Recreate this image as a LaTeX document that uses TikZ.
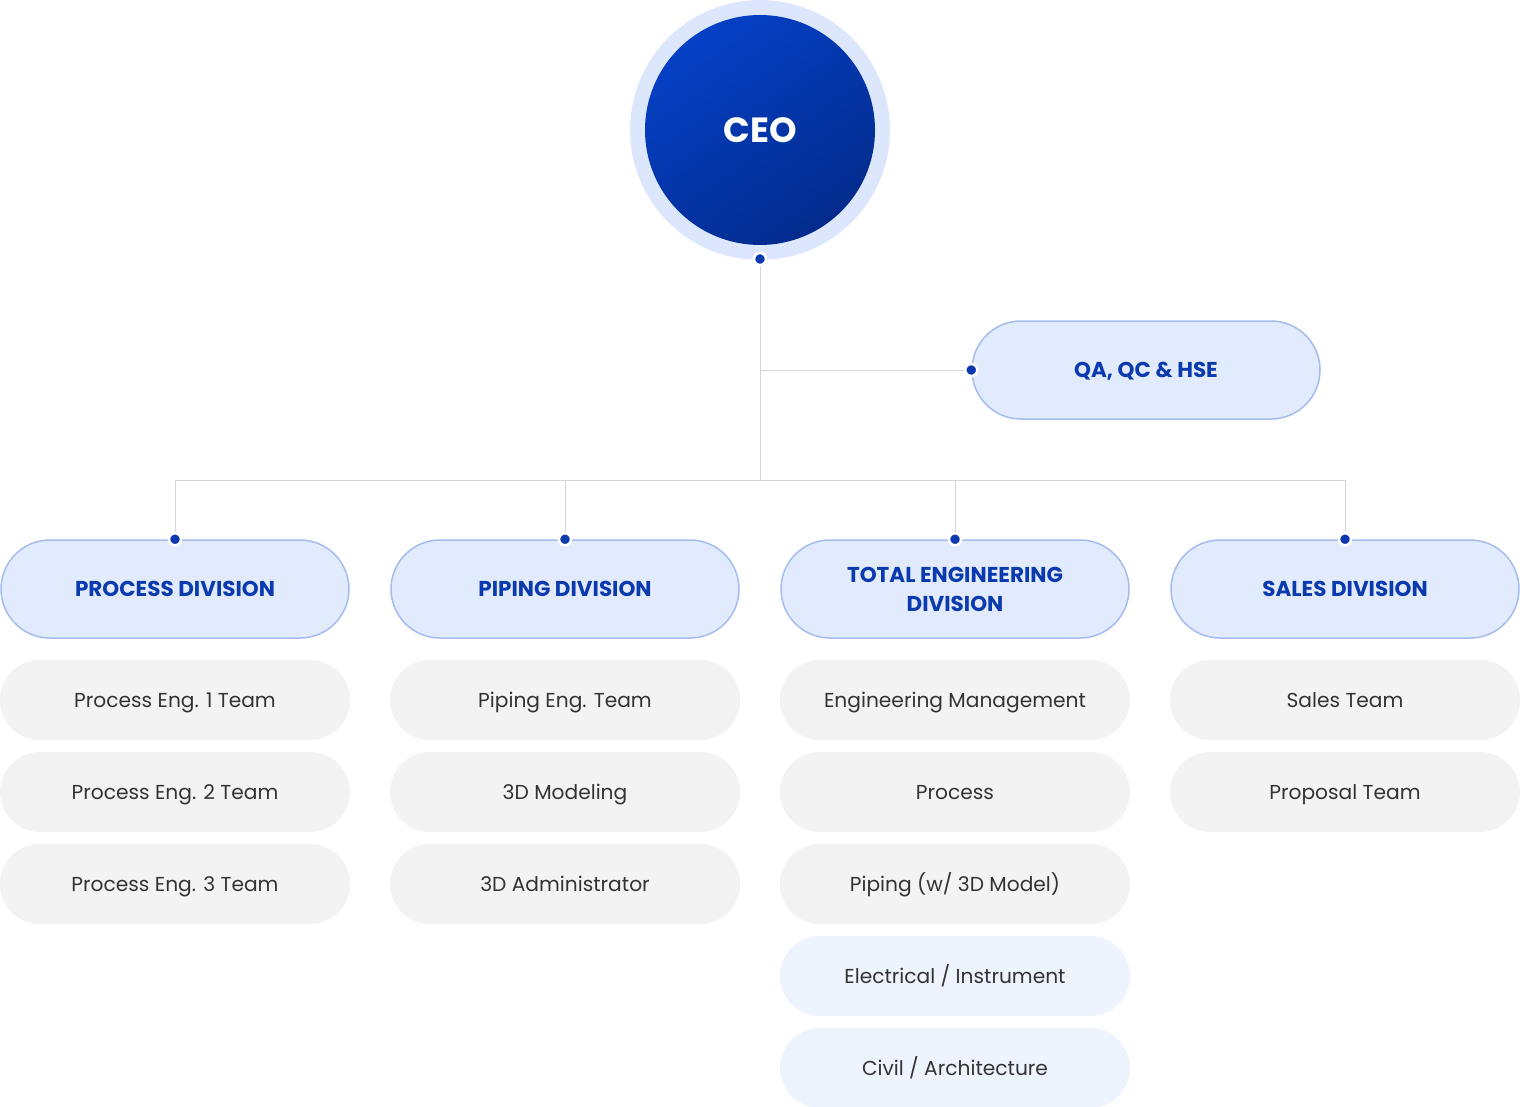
\documentclass[tikz,border=0pt]{standalone}
\usepackage{fontspec}
\setmainfont{Poppins}
\definecolor{ceoA}{HTML}{0540C6}
\definecolor{ceoB}{HTML}{032B8C}
\definecolor{ring}{HTML}{DCE6FD}
\definecolor{divfill}{HTML}{E2EBFD}
\definecolor{divline}{HTML}{A4BCEE}
\definecolor{divtext}{HTML}{0A3AAE}
\definecolor{itemfill}{HTML}{F3F3F3}
\definecolor{itemblue}{HTML}{EEF4FE}
\definecolor{itemtext}{HTML}{333333}
\definecolor{conn}{HTML}{D6D6D6}
\definecolor{dotc}{HTML}{0A3AAE}
\tikzset{
  divbox/.style={draw=divline, line width=1.5pt, fill=divfill, rounded corners=49pt,
    minimum width=348pt, minimum height=98pt, inner sep=0pt, align=center,
    font=\fontsize{21.5}{29}\selectfont\bfseries, text=divtext},
  itembox/.style={fill=itemfill, rounded corners=40pt, minimum width=350pt,
    minimum height=80pt, inner sep=0pt, text height=14pt, text depth=0pt,
    font=\fontsize{20.2}{24}\selectfont, text=itemtext},
  itemboxb/.style={itembox, fill=itemblue},
  connector/.style={draw=conn, line width=1pt},
  jdot/.style={circle, fill=dotc, draw=white, line width=2.5pt, minimum size=12pt, inner sep=0pt},
}
\begin{document}
\begin{tikzpicture}[x=1pt,y=-1pt]
\useasboundingbox (0,0) rectangle (1520,1107);
% CEO
\node[circle, fill=ring, minimum size=260pt, inner sep=0pt] (ceoring) at (760,130) {};
\node[circle, top color=ceoA, bottom color=ceoB, shading angle=35, minimum size=230pt, inner sep=0pt,
  text=white, font=\fontsize{35}{40}\selectfont\bfseries] (ceo) at (760,130) {CEO};
% QA
\node[divbox, text height=15pt, text depth=0pt] (qa) at (1146,370) {QA, QC \& HSE};
% Divisions
\node[divbox, text height=15pt, text depth=0pt] (d1) at (175,589) {PROCESS DIVISION};
\node[divbox, text height=15pt, text depth=0pt] (d2) at (565,589) {PIPING DIVISION};
\node[divbox] (d3) at (955,589) {TOTAL ENGINEERING\\DIVISION};
\node[divbox, text height=15pt, text depth=0pt] (d4) at (1345,589) {SALES DIVISION};
% junctions
\coordinate (ceobot) at (760,259);
\coordinate (jqa) at (760,370);
\coordinate (jmain) at (760,480);
\coordinate (j1) at (175,480);
\coordinate (j2) at (565,480);
\coordinate (j3) at (955,480);
\coordinate (j4) at (1345,480);
% connectors
\draw[connector] (ceobot) -- (jmain);
\draw[connector] (jqa) -- (qa.west);
\draw[connector] (j1) -- (j4);
\draw[connector] (j1) -- (d1.north);
\draw[connector] (j2) -- (d2.north);
\draw[connector] (j3) -- (d3.north);
\draw[connector] (j4) -- (d4.north);
% dots
\node[jdot] (dceo) at (ceobot) {};
\node[jdot] (dqa) at (qa.west) {};
\node[jdot] (dd1) at (d1.north) {};
\node[jdot] (dd2) at (d2.north) {};
\node[jdot] (dd3) at (d3.north) {};
\node[jdot] (dd4) at (d4.north) {};
% items
\node[itembox] (p1) at (175,700) {Process Eng. 1 Team};
\node[itembox] (p2) at (175,792) {Process Eng. 2 Team};
\node[itembox] (p3) at (175,884) {Process Eng. 3 Team};
\node[itembox] (pi1) at (565,700) {Piping Eng. Team};
\node[itembox] (pi2) at (565,792) {3D Modeling};
\node[itembox] (pi3) at (565,884) {3D Administrator};
\node[itembox] (t1) at (955,700) {Engineering Management};
\node[itembox] (t2) at (955,792) {Process};
\node[itembox] (t3) at (955,884) {Piping (w/ 3D Model)};
\node[itemboxb] (t4) at (955,976) {Electrical / Instrument};
\node[itemboxb] (t5) at (955,1068) {Civil / Architecture};
\node[itembox] (s1) at (1345,700) {Sales Team};
\node[itembox] (s2) at (1345,792) {Proposal Team};
\end{tikzpicture}
\end{document}
